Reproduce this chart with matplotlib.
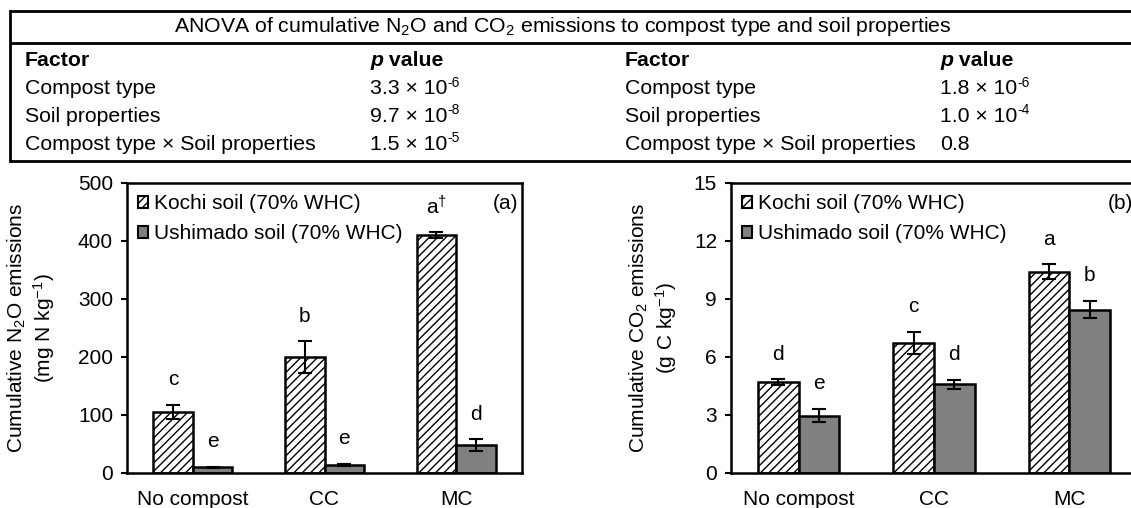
import numpy as np
import matplotlib.pyplot as plt
from matplotlib.patches import Patch

plt.rcParams['font.family'] = ['Liberation Sans', 'DejaVu Sans']
plt.rcParams['mathtext.fontset'] = 'custom'
plt.rcParams['mathtext.rm'] = 'Liberation Sans'
plt.rcParams['mathtext.it'] = 'Liberation Sans:italic'
plt.rcParams['mathtext.bf'] = 'Liberation Sans:bold'
plt.rcParams['hatch.linewidth'] = 1.0

fs = 15
fs_tab = 15.3

# data
categories = ["No compost", "CC", "MC"]
n2o_kochi = [105, 200, 411]
n2o_kochi_err = [12, 27, 5]
n2o_ushi = [10, 14, 48]
n2o_ushi_err = [1, 2, 10]
n2o_letters_kochi = ["c", "b", "a$^{\\dagger}$"]
n2o_letters_ushi = ["e", "e", "d"]

co2_kochi = [4.7, 6.72, 10.4]
co2_kochi_err = [0.15, 0.58, 0.39]
co2_ushi = [2.97, 4.6, 8.45]
co2_ushi_err = [0.33, 0.23, 0.45]
co2_letters_kochi = ["d", "c", "a"]
co2_letters_ushi = ["e", "d", "b"]

anova_factors = ["Compost type", "Soil properties", "Compost type × Soil properties"]
anova_p_n2o = ["3.3 × 10^-6", "9.7 × 10^-8", "1.5 × 10^-5"]
anova_p_co2 = ["1.8 × 10^-6", "1.0 × 10^-4", "0.8"]

W, H = 1131, 508
fig = plt.figure(figsize=(W / 100, H / 100), dpi=100)

# ANOVA table on top (pixel coordinates)
tab = fig.add_axes([0, 0, 1, 1])
tab.set_xlim(0, W)
tab.set_ylim(H, 0)
tab.axis("off")
lw_tab = 2.0
for yl in (11, 43, 161):
    tab.plot([10, W + 5], [yl, yl], color="k", lw=lw_tab, solid_capstyle="butt")
tab.plot([10, 10], [11, 161], color="k", lw=lw_tab, solid_capstyle="projecting")
tab.text(563, 27, "ANOVA of cumulative N$_2$O and CO$_2$ emissions to compost type and soil properties",
         ha="center", va="center", fontsize=fs_tab)
for x0, px, vals in [(25, 370, anova_p_n2o), (625, 940, anova_p_co2)]:
    tab.text(x0, 61, "Factor", ha="left", va="center", fontsize=fs_tab, fontweight="bold")
    t = tab.text(px, 61, "p", ha="left", va="center", fontsize=fs_tab, fontweight="bold", style="italic")
    tab.annotate(" value", xy=(1, 0), xycoords=t, ha="left", va="bottom",
                 fontsize=fs_tab, fontweight="bold")
    for i, (f, v) in enumerate(zip(anova_factors, vals)):
        y = 89 + i * 27.5
        tab.text(x0, y, f, ha="left", va="center", fontsize=fs_tab)
        base, _, expo = v.partition("^")
        t = tab.text(px, y, base, ha="left", va="center", fontsize=fs_tab)
        if expo:
            tab.annotate(expo, xy=(1, 0.45), xycoords=t, ha="left", va="bottom",
                         fontsize=fs_tab * 0.65)

ax1 = fig.add_axes([127 / W, 35 / H, 395 / W, 290 / H])
ax2 = fig.add_axes([731 / W, 35 / H, 406 / W, 290 / H])

x = np.arange(len(categories))
w = 0.3


def draw(ax, kochi, kerr, ushi, uerr, lk, lu, ymax, ystep, label, tag, labx):
    ax.bar(x - w / 2, kochi, w, color="white", edgecolor="k", hatch="////", lw=1.8, zorder=2)
    ax.bar(x + w / 2, ushi, w, color="#808080", edgecolor="k", lw=1.8, zorder=2)
    ax.errorbar(x - w / 2, kochi, yerr=kerr, fmt="none", ecolor="k", elinewidth=1.5,
                capsize=5, capthick=1.5, zorder=3)
    ax.errorbar(x + w / 2, ushi, yerr=uerr, fmt="none", ecolor="k", elinewidth=1.5,
                capsize=5, capthick=1.5, zorder=3)
    off = 0.087 * ymax
    for i in range(len(categories)):
        ax.text(x[i] - w / 2, kochi[i] + kerr[i] + off, lk[i], ha="center", va="center", fontsize=fs)
        ax.text(x[i] + w / 2, ushi[i] + uerr[i] + off, lu[i], ha="center", va="center", fontsize=fs)
    ax.set_xlim(-0.5, 2.5)
    ax.set_ylim(0, ymax)
    ax.set_yticks(np.arange(0, ymax + ystep / 2, ystep))
    ax.set_xticks(x)
    ax.set_xticklabels(categories)
    ax.tick_params(axis="x", length=0, labelsize=fs, pad=12)
    ax.tick_params(axis="y", direction="out", length=4, width=1.5, labelsize=fs, pad=6)
    for s in ax.spines.values():
        s.set_linewidth(1.8)
    ax.set_ylabel(label, fontsize=fs, linespacing=1.15)
    ax.yaxis.set_label_coords(labx, 0.5)
    ax.text(0.99, 0.93, tag, transform=ax.transAxes, ha="right", va="center", fontsize=fs)
    handles = [Patch(facecolor="white", edgecolor="k", hatch="////", lw=1.5),
               Patch(facecolor="#808080", edgecolor="k", lw=1.5)]
    ax.legend(handles, ["Kochi soil (70% WHC)", "Ushimado soil (70% WHC)"], loc="upper left",
              frameon=False, fontsize=fs, handlelength=0.5, handleheight=0.5,
              handletextpad=0.25, labelspacing=0.55, borderaxespad=0.1, borderpad=0.43)


draw(ax1, n2o_kochi, n2o_kochi_err, n2o_ushi, n2o_ushi_err, n2o_letters_kochi, n2o_letters_ushi,
     500, 100, "Cumulative N$_2$O emissions\n(mg N kg$^{-1}$)", "(a)", -0.178)
draw(ax2, co2_kochi, co2_kochi_err, co2_ushi, co2_ushi_err, co2_letters_kochi, co2_letters_ushi,
     15, 3, "Cumulative CO$_2$ emissions\n(g C kg$^{-1}$)", "(b)", -0.128)

fig.savefig("out.png", dpi=100, facecolor="white")
